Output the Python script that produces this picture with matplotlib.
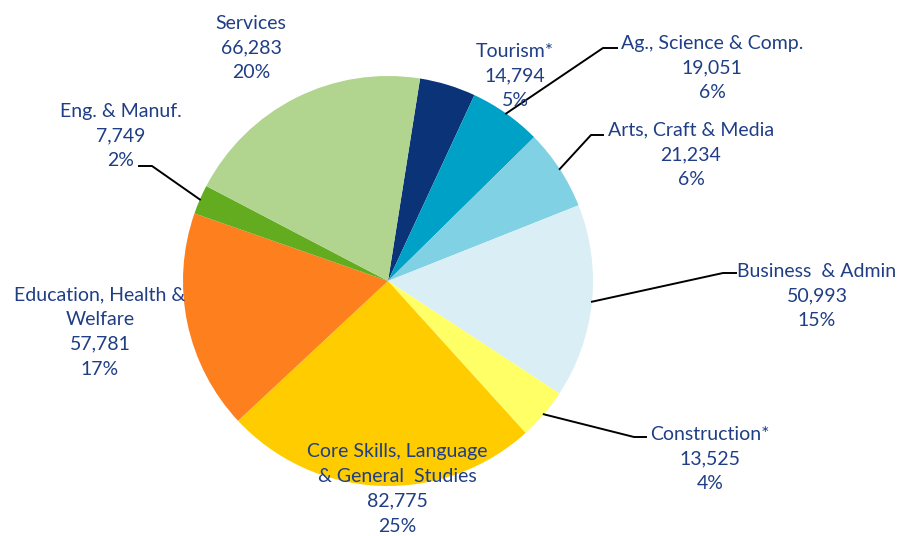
import numpy as np
import matplotlib
matplotlib.use("Agg")
import matplotlib.pyplot as plt

plt.rcParams["font.family"] = ["Lato", "DejaVu Sans"]

# data
categories = ["Tourism*", "Ag., Science & Comp.", "Arts, Craft & Media",
              "Business  & Admin", "Construction*",
              "Core Skills, Language\n& General  Studies",
              "Education, Health &\nWelfare", "Eng. & Manuf.", "Services"]
values = [14794, 19051, 21234, 50993, 13525, 82775, 57781, 7749, 66283]
pct_labels = ["5%", "6%", "6%", "15%", "4%", "25%", "17%", "2%", "20%"]
colors = ["#0B3377", "#00A1C7", "#80D1E3", "#DAEEF5", "#FFFF66",
          "#FFCC00", "#FD7F1E", "#63AC1F", "#B1D48F"]

W, H = 900, 536
TXT = "#1F3E85"

# label centre (pixels, y from top) and leader elbow (None = no leader)
label_pos = [(515, 76), (712, 68), (691, 155), (817, 296), (710, 459),
             (397, 489), (100, 332), (121, 136), (251, 48)]
elbows = [None, (603, 48, 617), (591, 135, 603), (723, 273, 736),
          (634, 437, 646), None, None, (152, 166, 139), None]

fig = plt.figure(figsize=(9, 5.36), dpi=100)
ax = fig.add_axes([0, 0, 1, 1])

cx, cy, r = 388, H - 281, 205
wedges, _ = ax.pie(values, colors=colors, startangle=81, counterclock=False,
                   center=(cx, cy), radius=r, frame=True,
                   wedgeprops=dict(linewidth=0))
ax.set_xlim(0, W)
ax.set_ylim(0, H)
ax.set_aspect("equal")
ax.axis("off")

for i, w in enumerate(wedges):
    txt = f"{categories[i]}\n{values[i]:,}\n{pct_labels[i]}"
    lx, ly = label_pos[i]
    ax.text(lx, H - ly, txt, ha="center", va="center", color=TXT,
            fontsize=14, linespacing=1.55)
    if elbows[i] is not None:
        mid = np.deg2rad((w.theta1 + w.theta2) / 2)
        ax_x = cx + r * np.cos(mid)
        ax_y = cy + r * np.sin(mid)
        ex, ey, hx = elbows[i]
        ax.plot([ax_x, ex, hx], [ax_y, H - ey, H - ey], color="black", lw=1.4)

fig.savefig("out.png", dpi=100)
